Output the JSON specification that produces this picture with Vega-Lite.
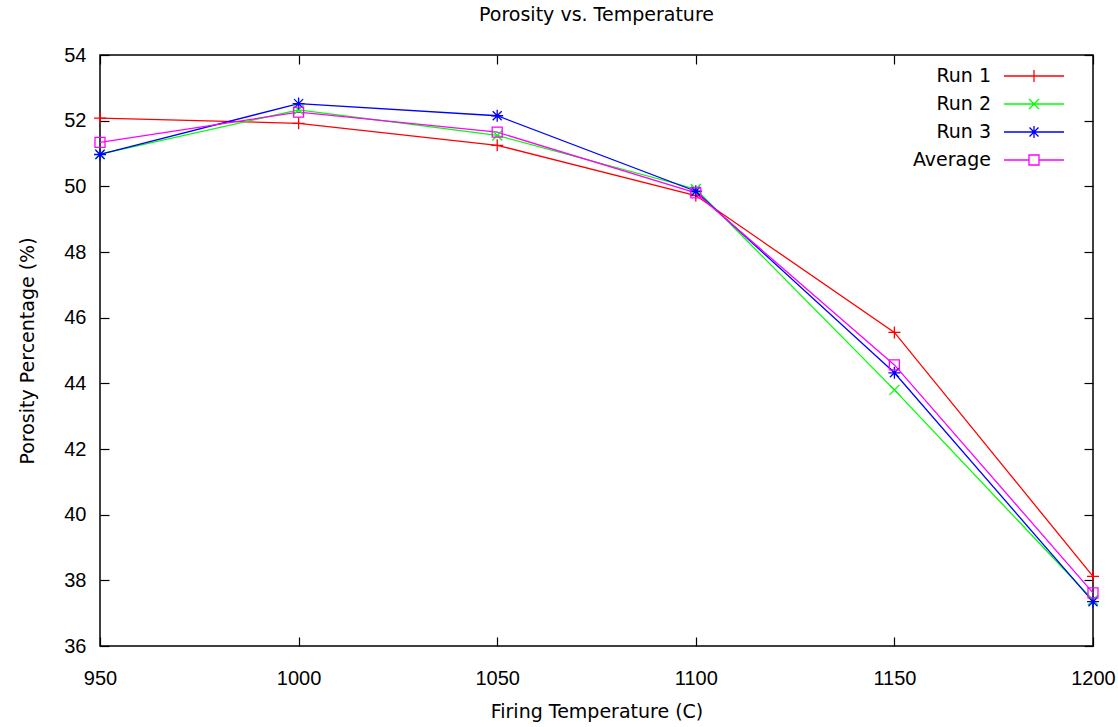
{
  "$schema": "https://vega.github.io/schema/vega-lite/v6.json",
  "autosize": "none",
  "width": 993,
  "height": 591,
  "padding": {"left": 100, "top": 55, "right": 25, "bottom": 81},
  "background": "white",
  "title": {"text": "Porosity vs. Temperature", "font": "DejaVu Sans", "fontSize": 19, "fontWeight": "normal", "color": "black", "offset": 20},
  "config": {
    "view": {"stroke": "black", "strokeWidth": 1.5},
    "axis": {"labelFont": "Liberation Sans", "titleFont": "DejaVu Sans", "labelFontSize": 20, "titleFontSize": 19, "titleFontWeight": "normal", "labelColor": "black", "titleColor": "black", "tickColor": "black", "domain": false, "grid": false, "tickSize": -9, "tickWidth": 1.2, "format": "d"},
    "legend": {"labelFont": "DejaVu Sans", "labelFontSize": 19, "labelColor": "black"}
  },
  "data": {"values": [
    {"temp": 950, "series": "Run 1", "value": 52.08},
    {"temp": 1000, "series": "Run 1", "value": 51.92},
    {"temp": 1050, "series": "Run 1", "value": 51.25},
    {"temp": 1100, "series": "Run 1", "value": 49.72},
    {"temp": 1150, "series": "Run 1", "value": 45.55},
    {"temp": 1200, "series": "Run 1", "value": 38.12},
    {"temp": 950, "series": "Run 2", "value": 50.98},
    {"temp": 1000, "series": "Run 2", "value": 52.33},
    {"temp": 1050, "series": "Run 2", "value": 51.55},
    {"temp": 1100, "series": "Run 2", "value": 49.92},
    {"temp": 1150, "series": "Run 2", "value": 43.8},
    {"temp": 1200, "series": "Run 2", "value": 37.4},
    {"temp": 950, "series": "Run 3", "value": 50.97},
    {"temp": 1000, "series": "Run 3", "value": 52.52},
    {"temp": 1050, "series": "Run 3", "value": 52.15},
    {"temp": 1100, "series": "Run 3", "value": 49.85},
    {"temp": 1150, "series": "Run 3", "value": 44.32},
    {"temp": 1200, "series": "Run 3", "value": 37.35},
    {"temp": 950, "series": "Average", "value": 51.34},
    {"temp": 1000, "series": "Average", "value": 52.26},
    {"temp": 1050, "series": "Average", "value": 51.65},
    {"temp": 1100, "series": "Average", "value": 49.8},
    {"temp": 1150, "series": "Average", "value": 44.56},
    {"temp": 1200, "series": "Average", "value": 37.62}
  ]},
  "resolve": {"axis": {"x": "independent", "y": "independent"}},
  "layer": [
    {
      "mark": {"type": "point", "filled": false, "strokeWidth": 1.3, "opacity": 0},
      "encoding": {
        "x": {"field": "temp", "type": "quantitative", "scale": {"domain": [950, 1200], "nice": false, "zero": false}, "axis": null},
        "y": {"field": "value", "type": "quantitative", "scale": {"domain": [36, 54], "nice": false, "zero": false}, "axis": null},
        "color": {"field": "series", "type": "nominal", "scale": {"domain": ["Run 1", "Run 2", "Run 3", "Average"], "range": ["#ff0000", "#00ff00", "#0000ff", "#ff00ff"]}, "legend": {"title": null, "orient": "none", "legendX": 923, "legendY": 10, "padding": 0, "labelAlign": "right", "labelOffset": -54, "symbolSize": 400, "symbolStrokeWidth": 1.3, "symbolOpacity": 1, "rowPadding": 7}},
        "shape": {"field": "series", "type": "nominal", "scale": {"domain": ["Run 1", "Run 2", "Run 3", "Average"], "range": ["M-3,0H3M0,-0.6V0.6", "M-3,0H3M-0.5,-0.5L0.5,0.5M-0.5,0.5L0.5,-0.5", "M-3,0H3M0,-0.6V0.6M-0.45,-0.45L0.45,0.45M-0.45,0.45L0.45,-0.45", "M-3,0H-0.5M0.5,0H3M-0.5,-0.5H0.5V0.5H-0.5Z"]}, "legend": {"title": null, "orient": "none", "legendX": 923, "legendY": 10, "padding": 0, "labelAlign": "right", "labelOffset": -54, "symbolSize": 400, "symbolStrokeWidth": 1.3, "symbolOpacity": 1, "rowPadding": 7}}
      }
    },
    {
      "mark": {"type": "line", "strokeWidth": 1.3},
      "encoding": {
        "x": {"field": "temp", "type": "quantitative", "axis": {"orient": "bottom", "title": "Firing Temperature (C)", "values": [950, 1000, 1050, 1100, 1150, 1200], "labelPadding": 31, "titlePadding": 14, "labelFlush": false}},
        "y": {"field": "value", "type": "quantitative", "axis": {"orient": "left", "title": "Porosity Percentage (%)", "values": [36, 38, 40, 42, 44, 46, 48, 50, 52, 54], "labelPadding": 23, "titlePadding": 26}},
        "color": {"field": "series", "type": "nominal", "legend": null},
        "detail": {"field": "series"}
      }
    },
    {
      "transform": [{"filter": "datum.series === 'Run 1'"}],
      "mark": {"type": "point", "shape": "M-1,0H1M0,-1V1", "size": 144, "filled": false, "strokeWidth": 1.3, "opacity": 1},
      "encoding": {
        "x": {"field": "temp", "type": "quantitative", "axis": {"orient": "top", "labels": false, "title": null, "values": [950, 1000, 1050, 1100, 1150, 1200]}},
        "y": {"field": "value", "type": "quantitative", "axis": {"orient": "right", "labels": false, "title": null, "values": [36, 38, 40, 42, 44, 46, 48, 50, 52, 54]}},
        "color": {"field": "series", "type": "nominal", "legend": null}
      }
    },
    {
      "transform": [{"filter": "datum.series === 'Run 2'"}],
      "mark": {"type": "point", "shape": "M-1,-1L1,1M-1,1L1,-1", "size": 100, "filled": false, "strokeWidth": 1.3, "opacity": 1},
      "encoding": {
        "x": {"field": "temp", "type": "quantitative", "axis": null},
        "y": {"field": "value", "type": "quantitative", "axis": null},
        "color": {"field": "series", "type": "nominal", "legend": null}
      }
    },
    {
      "transform": [{"filter": "datum.series === 'Run 3'"}],
      "mark": {"type": "point", "shape": "M-1,0H1M0,-1V1M-0.75,-0.75L0.75,0.75M-0.75,0.75L0.75,-0.75", "size": 144, "filled": false, "strokeWidth": 1.3, "opacity": 1},
      "encoding": {
        "x": {"field": "temp", "type": "quantitative", "axis": null},
        "y": {"field": "value", "type": "quantitative", "axis": null},
        "color": {"field": "series", "type": "nominal", "legend": null}
      }
    },
    {
      "transform": [{"filter": "datum.series === 'Average'"}],
      "mark": {"type": "point", "shape": "M-1,-1H1V1H-1Z", "size": 100, "filled": false, "strokeWidth": 1.3, "opacity": 1},
      "encoding": {
        "x": {"field": "temp", "type": "quantitative", "axis": null},
        "y": {"field": "value", "type": "quantitative", "axis": null},
        "color": {"field": "series", "type": "nominal", "legend": null}
      }
    }
  ]
}
